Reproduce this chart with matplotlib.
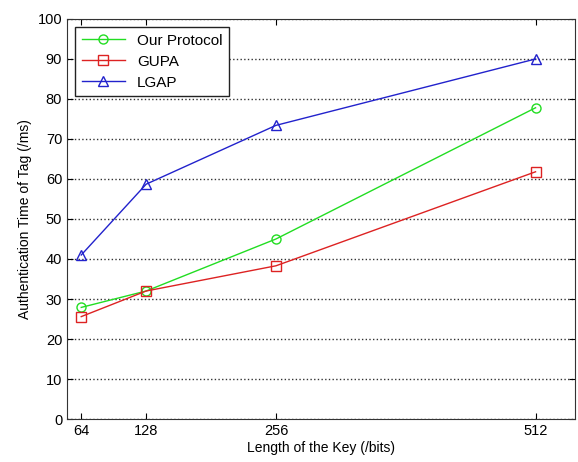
import matplotlib.pyplot as plt

key_bits = [64, 128, 256, 512]
our_protocol = [27.9, 32.0, 45.0, 77.8]
gupa = [25.6, 32.0, 38.3, 61.8]
lgap = [41.0, 58.7, 73.4, 90.0]

plt.rcParams['font.family'] = ['Liberation Sans', 'DejaVu Sans']

fig = plt.figure(figsize=(5.78, 4.62), dpi=100)
ax = fig.add_axes([0.116, 0.093, 0.879, 0.866])

ax.plot(key_bits, our_protocol, color='#22dd22', marker='o', markersize=6.5,
        markerfacecolor='none', linewidth=1, label='Our Protocol')
ax.plot(key_bits, gupa, color='#dd2222', marker='s', markersize=6.5,
        markerfacecolor='none', linewidth=1, label='GUPA')
ax.plot(key_bits, lgap, color='#2222cc', marker='^', markersize=7.5,
        markerfacecolor='none', linewidth=1, label='LGAP')

ax.set_xlim(50, 551)
ax.set_ylim(0, 100)
ax.set_xticks(key_bits)
ax.set_yticks(range(0, 101, 10))
ax.yaxis.grid(True, linestyle=':', color='#333333', linewidth=1)
ax.tick_params(direction='in', top=True, right=True, labelsize=10.5, length=4)
for s in ax.spines.values():
    s.set_color('#333333')

ax.set_xlabel('Length of the Key (/bits)', fontsize=10, labelpad=2)
ax.set_ylabel('Authentication Time of Tag (/ms)', fontsize=10, labelpad=4)

leg = ax.legend(loc='upper left', fontsize=11, fancybox=False, framealpha=1,
                edgecolor='#222222', handlelength=2.8, borderpad=0.45,
                labelspacing=0.45, borderaxespad=0,
                bbox_to_anchor=(0.016, 0.98))
leg.get_frame().set_linewidth(1)

plt.savefig('out.png', dpi=100)
